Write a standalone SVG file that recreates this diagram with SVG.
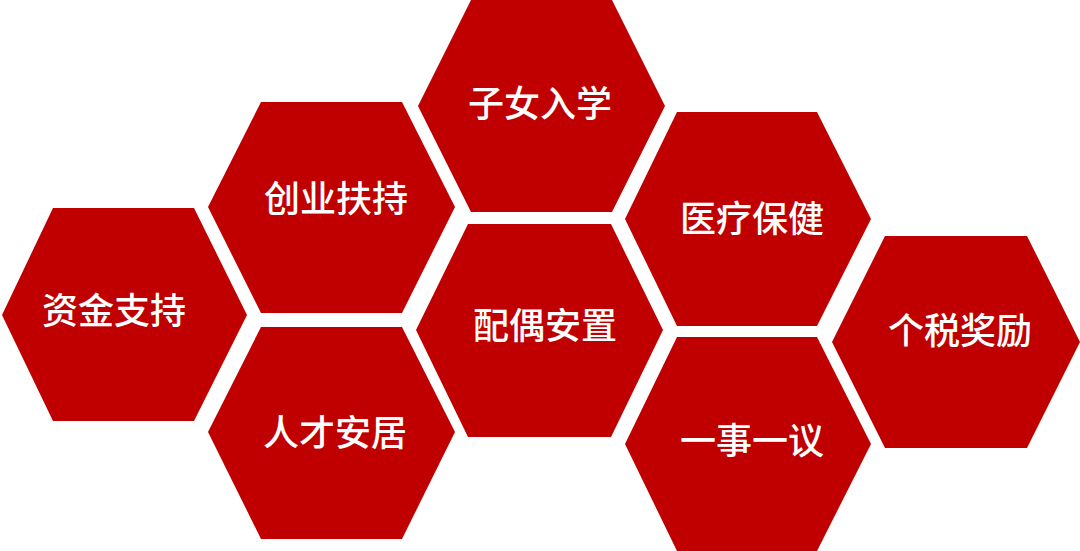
<svg xmlns="http://www.w3.org/2000/svg" width="1080" height="551" viewBox="0 0 1080 551">
<style>
.hex{fill:#C00000;}
.lbl{fill:#FFFFFF;font-family:"Noto Sans CJK SC","Noto Sans",sans-serif;font-size:36px;font-weight:500;text-anchor:middle;}
</style>
<rect width="1080" height="551" fill="#FFFFFF"/>
<g id="connectors"></g>
<g id="n1"><polygon class="hex" points="2,315 53,208 194,208 247,315 194,421 53,421"/><text class="lbl" x="114" y="324">资金支持</text></g>
<g id="n2"><polygon class="hex" points="208,207 261,102 402,102 455,207 402,313 261,313"/><text class="lbl" x="336" y="212">创业扶持</text></g>
<g id="n3"><polygon class="hex" points="208,432 261,327 402,327 455,432 402,539 261,539"/><text class="lbl" x="335" y="446">人才安居</text></g>
<g id="n4"><polygon class="hex" points="418,106 471,0 612,0 665,106 612,212 471,212"/><text class="lbl" x="540" y="117">子女入学</text></g>
<g id="n5"><polygon class="hex" points="416,330 468,224 611,224 663,330 611,437 468,437"/><text class="lbl" x="545" y="339">配偶安置</text></g>
<g id="n6"><polygon class="hex" points="625,219 677,112 817,112 871,219 817,326 677,326"/><text class="lbl" x="752" y="232">医疗保健</text></g>
<g id="n7"><polygon class="hex" points="625,444 677,337 817,337 871,444 817,551 677,551"/><text class="lbl" x="752" y="454">一事一议</text></g>
<g id="n8"><polygon class="hex" points="832,342 885,236 1027,236 1080,342 1027,448 885,448"/><text class="lbl" x="960" y="344">个税奖励</text></g>
</svg>
